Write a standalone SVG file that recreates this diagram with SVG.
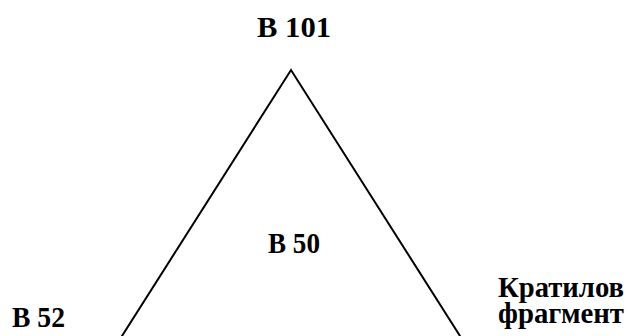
<svg xmlns="http://www.w3.org/2000/svg" width="630" height="336" viewBox="0 0 630 336">
<style>
.lbl{font-family:"Liberation Serif","Times New Roman",serif;font-weight:bold;fill:#000}
.edge{fill:none;stroke:#000;stroke-width:2}
</style>
<rect width="630" height="336" fill="#fff"/>
<g id="connectors">
<polyline class="edge" points="118.8,341 291,70 463.2,341"/>
</g>
<g id="node-b101"><text class="lbl" x="257" y="37" font-size="29" textLength="74" lengthAdjust="spacingAndGlyphs">B 101</text></g>
<g id="node-b50"><text class="lbl" x="268" y="253" font-size="30" textLength="52" lengthAdjust="spacingAndGlyphs">B 50</text></g>
<g id="node-b52"><text class="lbl" x="12" y="327" font-size="29" textLength="53" lengthAdjust="spacingAndGlyphs">B 52</text></g>
<g id="node-kratilos"><text class="lbl" x="498" y="297" font-size="30" textLength="126" lengthAdjust="spacingAndGlyphs">Кратилов</text><text class="lbl" x="498" y="323" font-size="30" textLength="126" lengthAdjust="spacingAndGlyphs">фрагмент</text></g>
</svg>
